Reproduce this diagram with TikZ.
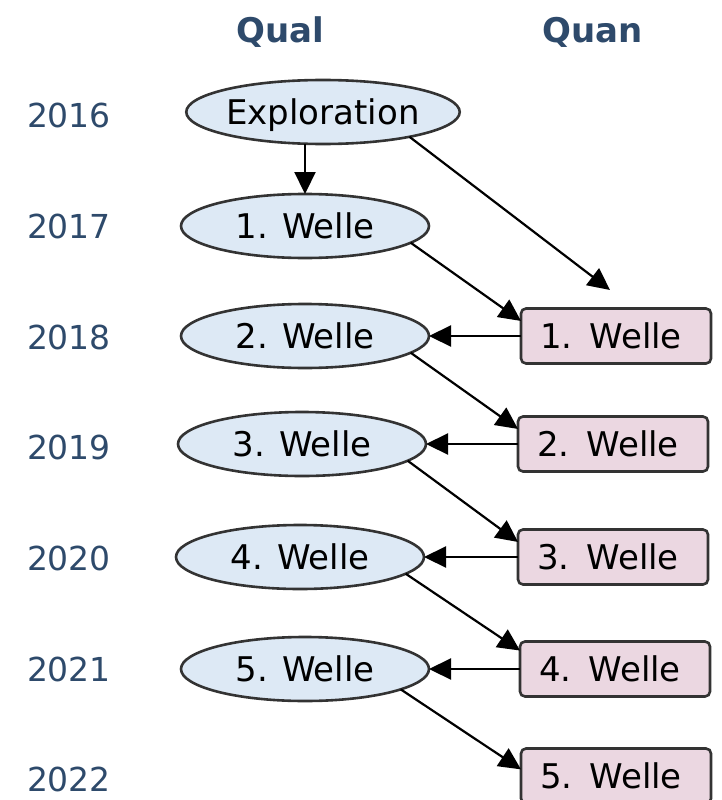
\documentclass[tikz,border=0pt]{standalone}
\usepackage{fontspec}
\setmainfont{DejaVu Sans}
\usetikzlibrary{shapes.geometric,arrows.meta}
\definecolor{hdr}{HTML}{2E4A6B}
\definecolor{qualfill}{HTML}{DDE9F5}
\definecolor{quanfill}{HTML}{EBD7E1}
\definecolor{edgec}{HTML}{333333}
\begin{document}
\begin{tikzpicture}[x=1pt,y=-1pt,
  qual/.style={ellipse, draw=edgec, line width=2.6pt, fill=qualfill,
    minimum width=248pt, minimum height=64pt, inner sep=0pt, outer sep=0pt,
    text depth=0pt, font=\fontsize{34}{40}\selectfont},
  quan/.style={rectangle, rounded corners=5pt, draw=edgec, line width=2.6pt, fill=quanfill,
    minimum width=190pt, minimum height=55pt, inner sep=0pt, outer sep=0pt,
    text width=152pt, align=left, text depth=0pt, font=\fontsize{34}{40}\selectfont},
  hdrtext/.style={text=hdr, anchor=base, inner sep=0pt, font=\bfseries\fontsize{34}{40}\selectfont},
  yeartext/.style={text=hdr, anchor=base, inner sep=0pt, font=\fontsize{33}{40}\selectfont},
  arr/.style={-{Triangle[length=22pt,width=21pt]}, line width=2.2pt, black}]
\useasboundingbox (0,0) rectangle (722,800);
\clip (0,0) rectangle (722,800);

\node[hdrtext] (hqual) at (280,43) {Qual};
\node[hdrtext] (hquan) at (593,43) {Quan};

\node[yeartext] (y16) at (69,127) {2016};
\node[yeartext] (y17) at (69,238) {2017};
\node[yeartext] (y18) at (69,349) {2018};
\node[yeartext] (y19) at (69,459) {2019};
\node[yeartext] (y20) at (69,570) {2020};
\node[yeartext] (y21) at (69,681) {2021};
\node[yeartext] (y22) at (69,791) {2022};

\node[qual, minimum width=271pt] (expl) at (323,112) {Exploration};
\node[qual] (q1) at (305,226) {1. Welle};
\node[qual] (q2) at (305,336) {2. Welle};
\node[qual] (q3) at (302,444) {3. Welle};
\node[qual] (q4) at (300,557) {4. Welle};
\node[qual] (q5) at (305,669) {5. Welle};

\node[quan] (r1) at (616,336) {1. Welle};
\node[quan] (r2) at (613,444) {2. Welle};
\node[quan] (r3) at (613,557) {3. Welle};
\node[quan] (r4) at (615,669) {4. Welle};
\node[quan] (r5) at (616,776) {5. Welle};

\coordinate (fe) at (610,290);

\draw[arr] (expl.south -| q1.north) -- (q1.north);
\draw[arr] (expl.-16) -- (fe);
\draw[arr] (q1.-9) -- (r1.171);
\draw[arr] (q2.-9) -- (r2.171);
\draw[arr] (q3.-9) -- (r3.171);
\draw[arr] (q4.-9) -- (r4.169);
\draw[arr] (q5.-12) -- (r5.176);

\draw[arr] (r1.west) -- (q2.east);
\draw[arr] (r2.west) -- (q3.east);
\draw[arr] (r3.west) -- (q4.east);
\draw[arr] (r4.west) -- (q5.east);
\end{tikzpicture}
\end{document}
